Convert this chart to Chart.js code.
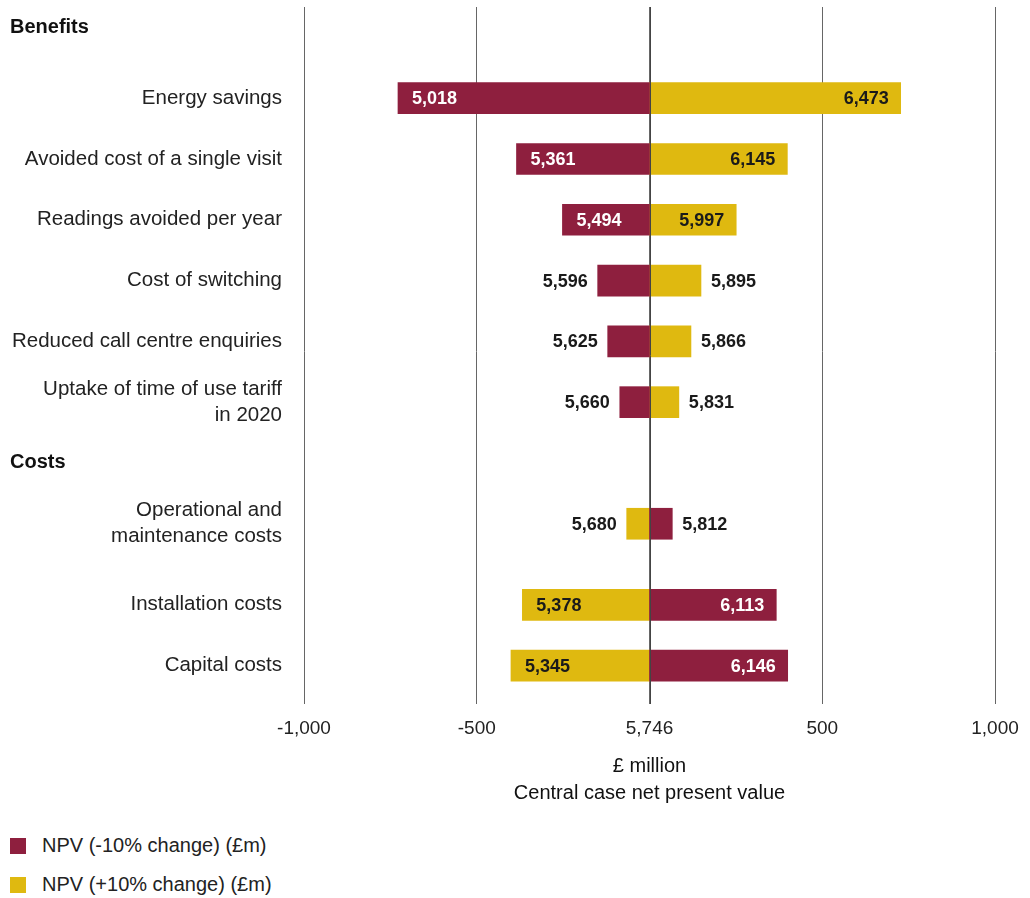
<!DOCTYPE html>
<html>
<head>
<meta charset="utf-8">
<script src="https://cdn.jsdelivr.net/npm/chart.js@4/dist/chart.umd.min.js"></script>
<style>
  body { margin: 0; background: #fff; font-family: "Liberation Sans", Arial, sans-serif; overflow: hidden; }
  #wrap { position: relative; width: 1030px; height: 811px; }
  #legend { position: absolute; left: 10px; top: 826px; }
  .item { height: 39px; display: flex; align-items: center; font-size: 20px; color: #222; }
  .box { width: 16px; height: 16px; margin-right: 16px; }
</style>
</head>
<body>
<div id="wrap"><canvas id="tornado"></canvas></div>
<div id="legend"></div>
<script>
const central = 5746
const categories = [
  'Energy savings',
  'Avoided cost of a single visit',
  'Readings avoided per year',
  'Cost of switching',
  'Reduced call centre enquiries',
  ['Uptake of time of use tariff', 'in 2020'],
  ['Operational and', 'maintenance costs'],
  'Installation costs',
  'Capital costs'
]
const npvMinus10 = [5018, 5361, 5494, 5596, 5625, 5660, 5812, 6113, 6146]
const npvPlus10 = [6473, 6145, 5997, 5895, 5866, 5831, 5680, 5378, 5345]
const tickOffsets = [-1000, -500, 0, 500, 1000]
const tickLabels = ['-1,000', '-500', '5,746', '500', '1,000']
const headers = ['Benefits', 'Costs']

const RED = '#8e1f3e'
const YELLOW = '#dfb910'

// rows sit on a grid of small slots so the spacing of the groups can follow the original
const slotCount = 34
const rowSlots = [4, 7, 10, 13, 16, 19, 25, 29, 32]
const headerSlots = [0, 22]

const slotLabels = new Array(slotCount).fill('')
const minusData = new Array(slotCount).fill(null)
const plusData = new Array(slotCount).fill(null)
categories.forEach((c, i) => {
  const s = rowSlots[i]
  slotLabels[s] = c
  minusData[s] = [central, npvMinus10[i]]
  plusData[s] = [central, npvPlus10[i]]
})

Chart.defaults.font.family = '"Liberation Sans", Arial, sans-serif'
Chart.defaults.color = '#222'

const fmt = v => v.toLocaleString('en-GB')

const extras = {
  id: 'extras',
  afterDatasetsDraw(chart) {
    const ctx = chart.ctx
    const xs = chart.scales.x
    const ys = chart.scales.y
    const area = chart.chartArea
    const cx = xs.getPixelForValue(central)

    ctx.save()
    ctx.strokeStyle = '#444'
    ctx.lineWidth = 1
    ctx.beginPath()
    ctx.moveTo(Math.round(cx) + 0.5, area.top)
    ctx.lineTo(Math.round(cx) + 0.5, area.bottom + 8)
    ctx.stroke()

    // value labels
    ctx.font = 'bold 18px "Liberation Sans", Arial, sans-serif'
    ctx.textBaseline = 'middle'
    chart.data.datasets.forEach((ds, di) => {
      const meta = chart.getDatasetMeta(di)
      meta.data.forEach((bar, i) => {
        const d = ds.data[i]
        if (!d) return
        const v = d[1]
        const delta = v - central
        const end = xs.getPixelForValue(v)
        const inside = Math.abs(delta) >= 200
        let x, align
        if (delta < 0) {
          if (inside) { x = end + 14; align = 'left' } else { x = end - 10; align = 'right' }
        } else {
          if (inside) { x = end - 12; align = 'right' } else { x = end + 10; align = 'left' }
        }
        ctx.textAlign = align
        ctx.fillStyle = inside && ds.backgroundColor === RED ? '#fff' : '#1a1a1a'
        ctx.fillText(fmt(v), x, bar.y + 1)
      })
    })

    // group headings
    ctx.font = 'bold 20px "Liberation Sans", Arial, sans-serif'
    ctx.textAlign = 'left'
    ctx.fillStyle = '#111'
    headers.forEach((h, i) => {
      const nudge = i === 0 ? 10 : 0
      ctx.fillText(h, 10, ys.getPixelForValue(headerSlots[i]) + nudge)
    })
    ctx.restore()
  }
}

new Chart(document.getElementById('tornado'), {
  type: 'bar',
  data: {
    labels: slotLabels,
    datasets: [
      { label: 'NPV (-10% change) (£m)', data: minusData, backgroundColor: RED, grouped: false, barThickness: 31 },
      { label: 'NPV (+10% change) (£m)', data: plusData, backgroundColor: YELLOW, grouped: false, barThickness: 31 }
    ]
  },
  options: {
    indexAxis: 'y',
    responsive: true,
    maintainAspectRatio: false,
    animation: false,
    layout: { padding: { top: 7, right: 35, left: 0, bottom: 0 } },
    plugins: {
      legend: { display: false },
      tooltip: { enabled: false }
    },
    scales: {
      x: {
        min: central - 1000,
        max: central + 1000,
        afterBuildTicks: scale => {
          scale.ticks = tickOffsets.map(o => ({ value: central + o }))
        },
        afterFit: scale => {
          scale.paddingLeft = 0
          scale.paddingRight = 0
        },
        ticks: {
          callback: (v, i) => tickLabels[i],
          font: { size: 19, lineHeight: 1.0 },
          color: '#222',
          padding: 15,
          maxRotation: 0
        },
        grid: { color: '#666', lineWidth: 1, tickLength: 8, drawTicks: true },
        border: { display: false },
        title: {
          display: true,
          text: ['£ million', 'Central case net present value'],
          font: { size: 20, lineHeight: 1.35 },
          color: '#111',
          padding: { top: 0, bottom: 4 }
        }
      },
      y: {
        afterFit: scale => {
          scale.width = 304
          scale.paddingTop = 0
          scale.paddingBottom = 0
        },
        grid: { display: false, drawTicks: false },
        border: { display: false },
        ticks: {
          autoSkip: false,
          padding: 22,
          font: { size: 20.5, lineHeight: 1.27 },
          color: '#222'
        }
      }
    }
  },
  plugins: [extras]
})

const legend = document.getElementById('legend')
;[['NPV (-10% change) (£m)', RED], ['NPV (+10% change) (£m)', YELLOW]].forEach(([t, c]) => {
  const row = document.createElement('div')
  row.className = 'item'
  row.innerHTML = '<span class="box" style="background:' + c + '"></span><span>' + t + '</span>'
  legend.appendChild(row)
})
</script>
</body>
</html>
